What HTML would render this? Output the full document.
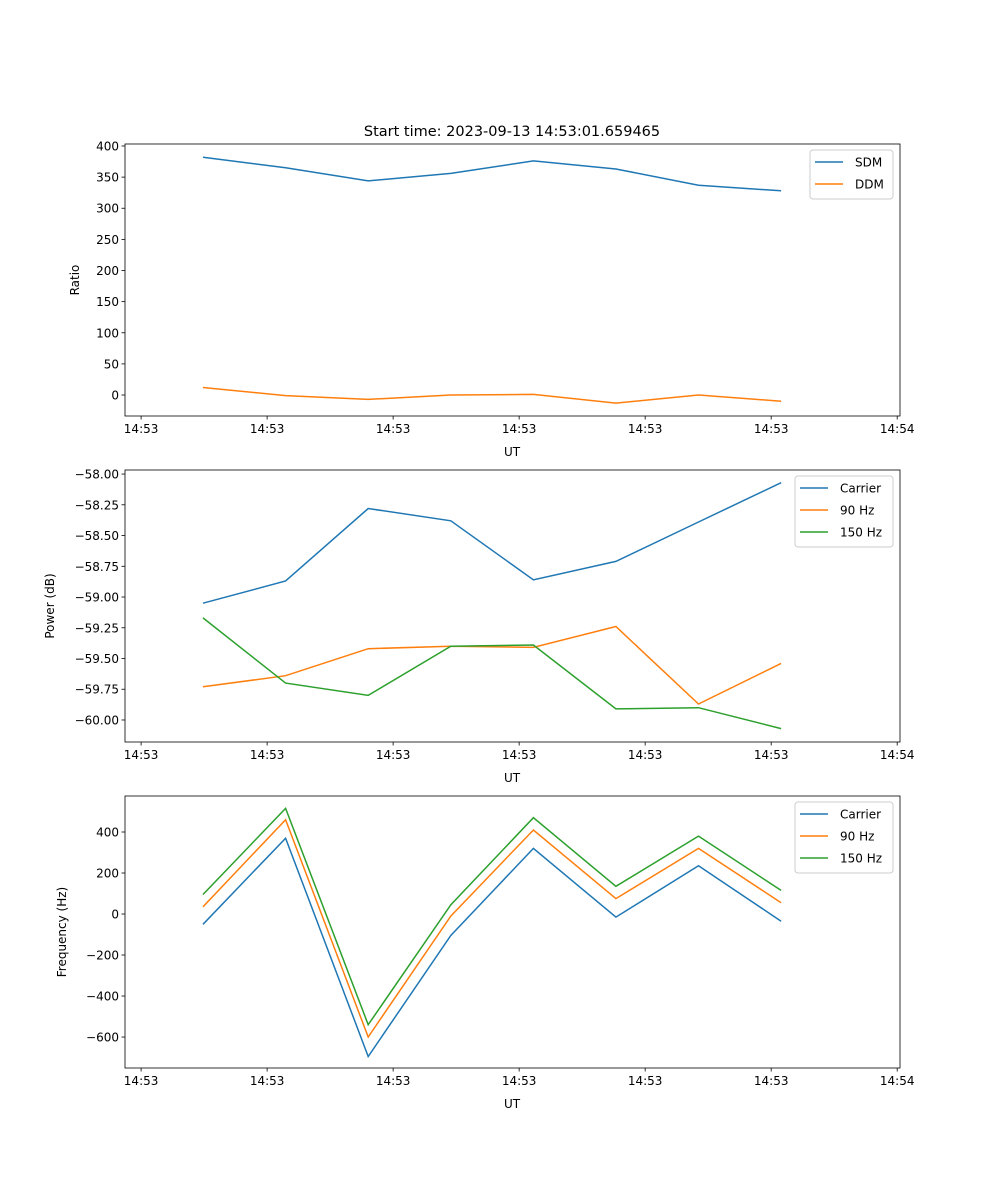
<!DOCTYPE html>
<html><head><meta charset="utf-8"><style>
html,body{margin:0;padding:0;background:#fff}
svg{display:block;font-family:"DejaVu Sans","Liberation Sans",sans-serif}
</style></head><body>
<svg id="fig" width="1000" height="1200" viewBox="0 0 1000 1200">
<text x="512" y="136" font-size="14.5" text-anchor="middle">Start time: 2023-09-13 14:53:01.659465</text>
</svg>
<script>
const xIndex = [0,1,2,3,4,5,6,7];
const xTickVals = [-0.75,0.776,2.302,3.828,5.354,6.88,8.406];
const xTickLabels = ["14:53","14:53","14:53","14:53","14:53","14:53","14:54"];
const sdm = [382,365,344,356,376,363,337,328];
const ddm = [12,-1,-7,0,1,-13,0,-10];
const powCarrier = [-59.05,-58.87,-58.28,-58.38,-58.86,-58.71,-58.39,-58.07];
const pow90 = [-59.73,-59.64,-59.42,-59.40,-59.41,-59.24,-59.87,-59.54];
const pow150 = [-59.17,-59.70,-59.80,-59.40,-59.39,-59.91,-59.90,-60.07];
const freqCarrier = [-50,370,-695,-105,320,-15,235,-35];
const freq90 = [35,460,-600,-10,410,75,320,55];
const freq150 = [95,515,-540,45,470,135,380,115];
const ticks1 = [0,50,100,150,200,250,300,350,400];
const ticks1Labels = ["0","50","100","150","200","250","300","350","400"];
const ticks2 = [-60,-59.75,-59.5,-59.25,-59,-58.75,-58.5,-58.25,-58];
const ticks2Labels = ["\u221260.00","\u221259.75","\u221259.50","\u221259.25","\u221259.00","\u221258.75","\u221258.50","\u221258.25","\u221258.00"];
const ticks3 = [-600,-400,-200,0,200,400];
const ticks3Labels = ["\u2212600","\u2212400","\u2212200","0","200","400"];

const NS="http://www.w3.org/2000/svg";
const fig=document.getElementById('fig');
function mk(tag,attrs,parent){const e=document.createElementNS(NS,tag);for(const k in attrs)e.setAttribute(k,attrs[k]);(parent||fig).appendChild(e);return e;}
const L=125,R=900,xmin=-0.945,xmax=8.44;
const xs=v=>L+(v-xmin)/(xmax-xmin)*(R-L);
const colors=["#1f77b4","#ff7f0e","#2ca02c"];

function panel(name,top,bot,ymin,ymax,ticks,tlabels,ylabel,ylabX,series,names,leg){
  const ys=v=>bot-(v-ymin)/(ymax-ymin)*(bot-top);
  const g=mk('g',{});
  
  
  series.forEach((s,si)=>{
    const p=mk('polyline',{points:s.map((v,i)=>xs(xIndex[i]).toFixed(1)+','+ys(v).toFixed(1)).join(' '),fill:'none',stroke:colors[si],'stroke-width':1.5},g);
    
    
  });
  const fr=mk('rect',{x:L,y:top,width:R-L,height:bot-top,fill:'none',stroke:'#000','stroke-width':0.8},g);
  
  
  xTickVals.forEach((v,i)=>{
    const x=xs(v);
    mk('line',{x1:x,y1:bot,x2:x,y2:bot+3.5,stroke:'#000','stroke-width':0.8},g);
    const t=mk('text',{x:x,y:bot+17,'font-size':12,'text-anchor':'middle'},g);
    t.textContent=xTickLabels[i];
    
    
  });
  ticks.forEach((v,i)=>{
    const y=ys(v);
    mk('line',{x1:L-3.5,y1:y,x2:L,y2:y,stroke:'#000','stroke-width':0.8},g);
    const t=mk('text',{x:L-6,y:y+4.5,'font-size':12,'text-anchor':'end'},g);
    t.textContent=tlabels[i];
    
    
  });
  const xl=mk('text',{x:512,y:bot+40,'font-size':12,'text-anchor':'middle'},g);
  xl.textContent='UT';
  
  
  const cy=(top+bot)/2;
  const yl=mk('text',{x:ylabX,y:cy,'font-size':12,'text-anchor':'middle',transform:'rotate(-90 '+ylabX+' '+cy+')'},g);
  yl.textContent=ylabel;
  
  
  const lg=mk('g',{},g);
  
  
  mk('rect',{x:leg[0],y:top+6,width:leg[1],height:names.length*22+5,rx:3,fill:'#fff',stroke:'#ccc','stroke-width':1},lg);
  names.forEach((n,i)=>{
    const y=top+18+i*22;
    mk('line',{x1:leg[0]+5,y1:y,x2:leg[0]+33,y2:y,stroke:colors[i],'stroke-width':1.5},lg);
    const t=mk('text',{x:leg[0]+45,y:y+4.5,'font-size':12},lg);
    t.textContent=n;
    
    
  });
}
panel('ratio',144,416,-33.7,403.2,ticks1,ticks1Labels,'Ratio',79,[sdm,ddm],['SDM','DDM'],[810,83]);
panel('power',470,742,-60.179,-57.967,ticks2,ticks2Labels,'Power (dB)',54,[powCarrier,pow90,pow150],['Carrier','90 Hz','150 Hz'],[795,98]);
panel('frequency',796,1068,-751,575.6,ticks3,ticks3Labels,'Frequency (Hz)',66,[freqCarrier,freq90,freq150],['Carrier','90 Hz','150 Hz'],[795,98]);
</script>
</body></html>
